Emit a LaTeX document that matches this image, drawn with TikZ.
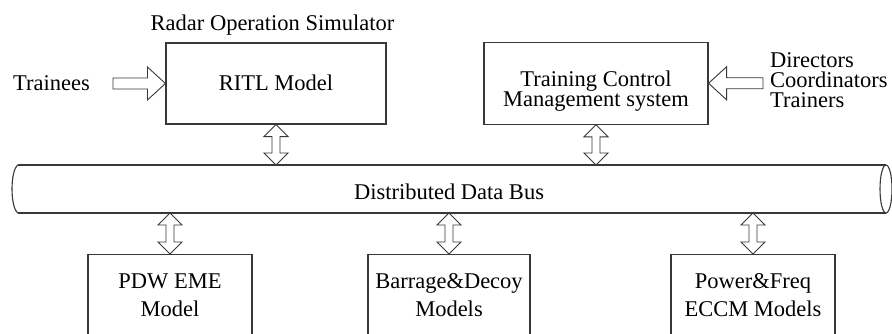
\documentclass[tikz,border=0pt]{standalone}
\usepackage{fontspec}
\setmainfont{Liberation Serif}
\usetikzlibrary{calc}
\tikzset{
  ln/.style={draw=black!78, line width=1.1pt},
  box/.style={ln, rectangle, inner sep=0pt},
  txt/.style={font=\fontsize{22.5}{20}\selectfont, inner sep=0pt, align=center},
  lbl/.style={font=\fontsize{22.5}{28}\selectfont, inner sep=0pt, align=center},
  fat/.style={draw=black!78, line width=0.9pt, fill=white, line join=miter},
}
\newcommand\vdarrow[2]{\draw[fat] let \p1=(#1), \p2=(#2) in
  (\x1,\y1) -- (\x1+12pt,\y1-12pt) -- (\x1+4pt,\y1-12pt) -- (\x1+4pt,\y2+12pt)
  -- (\x1+12pt,\y2+12pt) -- (\x1,\y2) -- (\x1-12pt,\y2+12pt) -- (\x1-4pt,\y2+12pt)
  -- (\x1-4pt,\y1-12pt) -- (\x1-12pt,\y1-12pt) -- cycle;}
\newcommand\harrowfat[2]{\draw[fat] let \p1=(#1), \p2=(#2), \n1={sign(\x2-\x1)} in
  (\x1,\y1+5.5pt) -- (\x2-\n1*18pt,\y1+5.5pt) -- (\x2-\n1*18pt,\y1+16.5pt) -- (\x2,\y1)
  -- (\x2-\n1*18pt,\y1-16.5pt) -- (\x2-\n1*18pt,\y1-5.5pt) -- (\x1,\y1-5.5pt) -- cycle;}
\begin{document}
\begin{tikzpicture}[x=1pt,y=-1pt]
\useasboundingbox (0,0) rectangle (892,333);
\clip (0,0) rectangle (892,333);
\fill[white] (0,0) rectangle (892,333);
% title
\node[txt, anchor=base] (title) at (272.5,30) {Radar Operation Simulator};
% top boxes
\node[box, minimum width=220pt, minimum height=81pt] (ritl) at (276,83.5) {};
\node[txt, anchor=base] (ritlt) at (276,90) {RITL Model};
\node[box, minimum width=224pt, minimum height=82pt] (tcm) at (596,83.25) {};
\node[txt, anchor=base] (tcmt) at (596,106) {Training Control\\Management system};
% left / right inputs
\node[txt, anchor=base west] (trainees) at (13,90.5) {Trainees};
\coordinate (trtail) at (113,83.5);
\harrowfat{trtail}{ritl.west}
\node[txt, anchor=base west, align=left] (staff) at (770,107) {Directors\\Coordinators\\Trainers};
\coordinate (sttail) at (763,83.25);
\harrowfat{sttail}{tcm.east}
% bus
\coordinate (bustop) at (0,165);
\coordinate (busbot) at (0,213);
\draw[ln] (18,165) -- (886,165);
\draw[ln] (18,213) -- (886,213);
\draw[ln] (18,165) .. controls (10,170) and (10,208) .. (18,213);
\draw[ln] (886,189) ellipse [x radius=6, y radius=24];
\node[txt, anchor=base] (bus) at (449,199) {Distributed Data Bus};
% bottom boxes
\node[box, minimum width=164pt, minimum height=100pt, anchor=north] (pdw) at (170,254) {};
\node[lbl, anchor=base] (pdwt) at (170,316) {PDW EME\\Model};
\node[box, minimum width=162pt, minimum height=100pt, anchor=north] (bar) at (449,254) {};
\node[lbl, anchor=base] (bart) at (449,316) {Barrage\&Decoy\\Models};
\node[box, minimum width=164pt, minimum height=100pt, anchor=north] (pow) at (753,254) {};
\node[lbl, anchor=base] (powt) at (753,316) {Power\&Freq\\ECCM Models};
% bus connectors
\vdarrow{ritl.south}{ritl.south |- bustop}
\vdarrow{tcm.south}{tcm.south |- bustop}
\vdarrow{pdw.north |- busbot}{pdw.north}
\vdarrow{bar.north |- busbot}{bar.north}
\vdarrow{pow.north |- busbot}{pow.north}
\end{tikzpicture}
\end{document}
